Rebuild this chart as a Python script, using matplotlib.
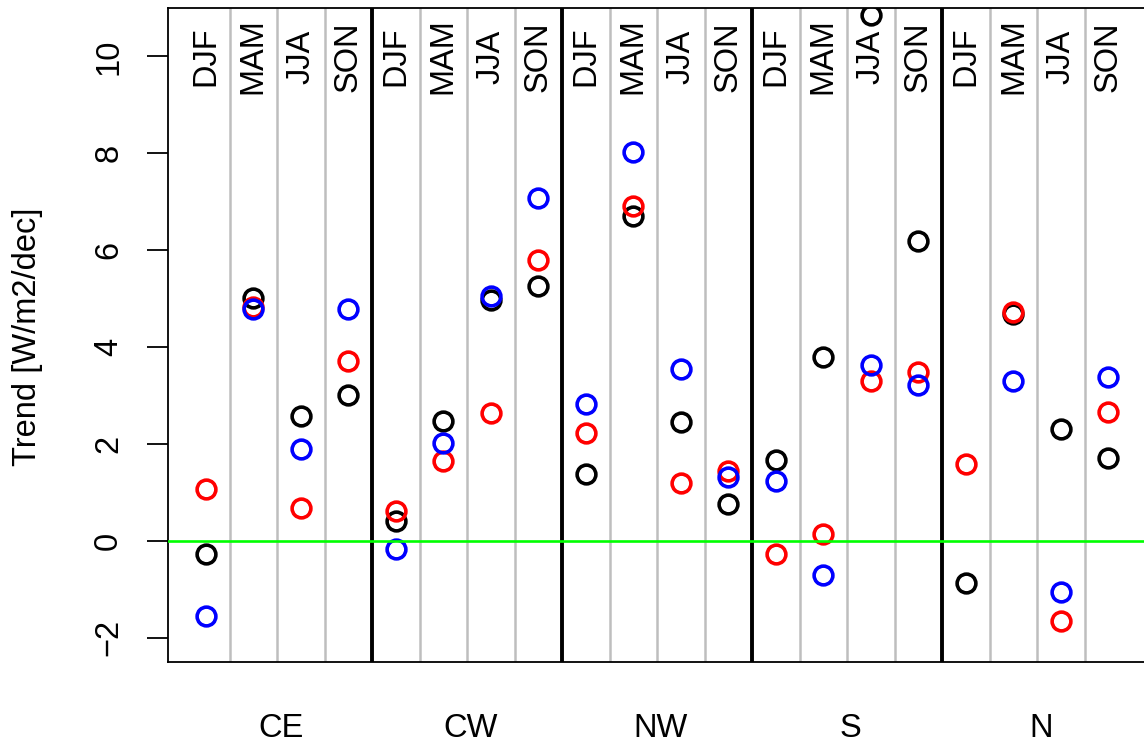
import numpy as np
import matplotlib
matplotlib.use("Agg")
import matplotlib.pyplot as plt
import matplotlib.transforms as mtransforms

plt.rcParams['font.family'] = ['Liberation Sans', 'DejaVu Sans']

# data
regions = ['CE', 'CW', 'NW', 'S', 'N']
seasons = ['DJF', 'MAM', 'JJA', 'SON']

trend_black = [-0.27, 5.01, 2.57, 3.01,
               0.42, 2.47, 4.97, 5.27,
               1.38, 6.71, 2.45, 0.76,
               1.67, 3.79, 10.85, 6.20,
               -0.86, 4.68, 2.31, 1.71]
trend_red = [1.07, 4.82, 0.67, 3.71,
             0.61, 1.64, 2.64, 5.79,
             2.22, 6.91, 1.19, 1.45,
             -0.28, 0.14, 3.31, 3.49,
             1.59, 4.72, -1.65, 2.67]
trend_blue = [-1.56, 4.79, 1.89, 4.79,
              -0.17, 2.02, 5.05, 7.08,
              2.83, 8.02, 3.55, 1.32,
              1.23, -0.70, 3.64, 3.22,
              np.nan, 3.31, -1.05, 3.38]

ns = len(seasons)
xpos = np.arange(1, len(regions) * ns + 1)

fig = plt.figure(figsize=(11.44, 7.44), dpi=100)
ax = fig.add_axes([168 / 1144, 82 / 744, 976.5 / 1144, 654 / 744])
ax.set_xlim(0.205, 20.76)
ax.set_ylim(-2.5, 11.0)

# separators: grey between seasons, black between regions
for b in np.arange(1.5, len(xpos), 1.0):
    if (b - 0.5) % ns == 0:
        ax.axvline(b, color='black', lw=2.8, zorder=1)
    else:
        ax.axvline(b, color='#BEBEBE', lw=1.8, zorder=1)

mk = dict(linestyle='none', marker='o', markersize=13.5, markerfacecolor='none',
          markeredgewidth=2.6, zorder=3)
ax.plot(xpos, trend_black, markeredgecolor='black', **mk)
ax.plot(xpos, trend_red, markeredgecolor='#FF0000', **mk)
ax.plot(xpos, trend_blue, markeredgecolor='#0000FF', **mk)

ax.axhline(0, color='#00FF00', lw=1.9, zorder=4)

# season labels at the top of every column
for i, x in enumerate(xpos):
    ax.text(x, 10, seasons[i % ns], rotation=90, ha='center', va='center',
            fontsize=23.5, zorder=5)

# region names under the plot
trans = mtransforms.blended_transform_factory(ax.transData, ax.transAxes)
for k, r in enumerate(regions):
    ax.text(k * ns + 2.58, -0.1147, r, transform=trans, ha='center', va='baseline',
            fontsize=23.5, clip_on=False)

ax.set_xticks([])
ax.set_yticks(np.arange(-2, 11, 2))
ax.tick_params(axis='y', direction='out', length=15, width=1.3, pad=16.5,
               labelsize=23.5, labelrotation=90)
for lab in ax.get_yticklabels():
    lab.set_va('center')

for s in ['left', 'top', 'bottom']:
    ax.spines[s].set_linewidth(1.3)
ax.spines['right'].set_visible(False)

fig.text(28 / 1144, 1 - 337 / 744, 'Trend [W/m2/dec]', rotation=90,
         ha='center', va='center', fontsize=23.5)

fig.savefig('out.png', dpi=100)
